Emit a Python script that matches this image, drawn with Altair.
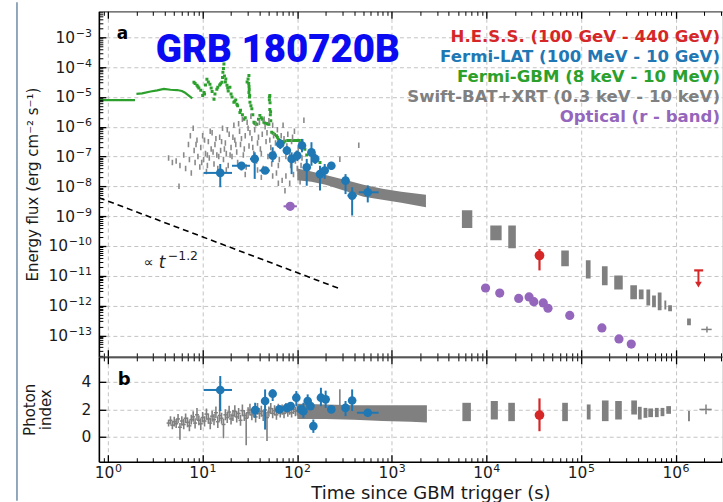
import altair as alt
import pandas as pd

# ================= DATA (log10 values) =================
# Fermi-GBM early binned light curve (two steps)
gbm_line_logt = [-0.097, 0.285, 0.30, 0.36, 0.45, 0.52, 0.59, 0.66, 0.73, 0.78, 0.81, 0.85, 0.89]
gbm_line_logF = [-5.11, -5.11, -4.90, -4.88, -4.82, -4.78, -4.73, -4.76, -4.77, -4.80, -4.85, -4.95, -5.05]
gbm_line_seg = [0, 0, 1, 1, 1, 1, 1, 1, 1, 1, 1, 1, 1]

# Fermi-GBM later points
gbm_logt = [0.908, 0.94, 0.96, 1.0, 1.014, 1.03, 1.045, 1.077, 1.09, 1.12, 1.13, 1.15, 1.18, 1.204,
            1.214, 1.225, 1.23, 1.24, 1.257, 1.27, 1.288, 1.31, 1.33, 1.35, 1.362, 1.394, 1.42,
            1.436, 1.47, 1.489, 1.489, 1.49, 1.495, 1.5, 1.52, 1.542, 1.56, 1.573, 1.605, 1.62,
            1.647, 1.68, 1.70, 1.705, 1.71, 1.71, 1.715, 1.73, 1.76, 1.78, 1.816, 1.83, 1.858,
            1.90, 1.94, 1.996, 2.05, 2.08, 2.13, 2.186, 2.24,
            0.92, 0.95, 0.98, 1.02, 1.06, 1.10, 1.16, 1.19, 1.21, 1.22, 1.245, 1.265, 1.30, 1.34,
            1.37, 1.40, 1.45, 1.48, 1.487, 1.492, 1.497, 1.51, 1.53, 1.55, 1.59, 1.63, 1.66, 1.69,
            1.707, 1.712, 1.718, 1.72, 1.745, 1.79, 1.80, 1.845, 1.87, 1.92, 1.97, 2.02, 2.10, 2.16, 2.21]
gbm_logF = [-4.51, -4.61, -4.70, -4.95, -4.85, -4.60, -4.41, -4.58, -4.70, -5.08, -4.90, -4.74, -4.60, -4.51,
            -4.17, -3.90, -4.30, -4.50, -4.61, -4.80, -4.68, -5.00, -5.18, -5.10, -5.25, -5.52, -5.60,
            -5.75, -4.50, -4.28, -4.85, -4.65, -5.00, -5.18, -5.40, -5.85, -5.90, -5.92, -5.62, -5.70,
            -5.85, -5.90, -5.92, -5.10, -4.95, -5.42, -5.60, -6.19, -6.26, -6.30, -6.46, -6.50, -6.52,
            -6.46, -6.46, -6.46, -6.46, -6.76, -6.90, -7.05, -7.20,
            -4.55, -4.66, -4.78, -4.90, -4.50, -4.82, -4.68, -4.56, -4.35, -4.05, -4.40, -4.70, -4.90, -5.15,
            -5.30, -5.45, -5.70, -4.40, -4.55, -4.75, -4.95, -5.30, -5.60, -5.88, -5.75, -5.75, -5.88, -5.90,
            -5.00, -5.20, -5.50, -5.80, -6.22, -6.35, -6.42, -6.50, -6.48, -6.46, -6.46, -6.46, -6.95, -7.00, -7.12]

# Swift-BAT (+ early XRT) scattered flux points
bat_logt = [0.64, 0.68, 0.72, 0.75, 0.76, 0.80, 0.82, 0.85, 0.86, 0.88, 0.90, 0.91, 0.92, 0.94, 0.95,
            0.97, 0.98, 1.00, 1.01, 1.03, 1.04, 1.06, 1.07, 1.09, 1.10, 1.12, 1.13, 1.15, 1.16, 1.18,
            1.19, 1.21, 1.22, 1.24, 1.25, 1.27, 1.28, 1.30, 1.31, 1.33, 1.34, 1.36, 1.37, 1.39, 1.40,
            1.42, 1.43, 1.45, 1.46, 1.48, 1.49, 1.51, 1.52, 1.54, 1.55, 1.57, 1.58, 1.60, 1.61, 1.63,
            1.64, 1.66, 1.67, 1.69, 1.70, 1.72, 1.73, 1.75, 1.76, 1.78, 1.79, 1.81, 1.82, 1.84, 1.85,
            1.86, 1.87, 1.88, 1.90, 1.91, 1.93, 1.94, 1.96, 1.97, 1.99, 2.00, 2.02, 2.03, 2.05, 2.07,
            2.45, 2.65,
            0.87, 0.93, 0.99, 1.02, 1.05, 1.08, 1.11, 1.14, 1.17, 1.20, 1.23, 1.26, 1.29, 1.32, 1.35,
            1.38, 1.41, 1.44, 1.47, 1.50, 1.53, 1.56, 1.59, 1.62, 1.65, 1.68, 1.71, 1.74, 1.77, 1.80,
            1.83, 1.89, 1.92, 1.95, 1.98, 2.01, 2.04, 1.45, 1.58, 1.62, 1.25, 1.05, 1.74, 1.80, 1.88, 1.92]
bat_logF = [-7.05, -7.20, -7.15, -8.00, -7.30, -6.95, -7.40, -6.60, -7.10, -7.55, -6.05, -6.80, -7.20, -6.45, -7.00,
            -7.35, -6.70, -6.30, -7.10, -6.90, -7.50, -6.50, -7.05, -6.75, -6.20, -7.25, -6.60, -6.95, -7.40, -6.35,
            -6.80, -6.05, -7.10, -6.55, -6.90, -7.30, -6.25, -6.70, -7.00, -5.95, -6.45, -6.85, -7.20, -6.15, -6.60,
            -5.75, -6.95, -6.30, -7.35, -6.05, -6.65, -5.65, -6.40, -6.90, -6.10, -7.15, -6.55, -5.85, -6.75, -6.25,
            -7.40, -6.00, -6.50, -7.00, -5.80, -6.70, -7.25, -6.30, -6.90, -7.55, -6.10, -7.10, -6.60, -7.80, -5.95,
            -6.40, -8.15, -7.00, -6.25, -6.80, -7.30, -6.50, -7.60, -6.15, -6.90, -7.40, -6.60, -7.85, -7.05, -5.78,
            -7.09, -6.62,
            -6.30, -6.60, -7.20, -6.45, -6.95, -6.15, -6.85, -6.40, -7.00, -6.50, -6.75, -6.10, -6.95, -6.35, -6.60,
            -5.90, -6.40, -6.75, -5.85, -6.20, -6.70, -5.90, -6.35, -6.90, -5.75, -6.20, -6.45, -5.95, -6.55, -7.30,
            -6.30, -6.65, -7.00, -6.35, -7.15, -6.75, -7.30, -7.60, -7.45, -7.70, -7.45, -7.30, -7.65, -7.90, -7.65, -7.90]

# Swift-XRT dense decay (flux envelope)
xrt_band_logt = [2.00, 2.15, 2.30, 2.50, 2.70, 2.90, 3.10, 3.36]
xrt_band_hi = [-7.40, -7.50, -7.62, -7.78, -7.95, -8.08, -8.18, -8.28]
xrt_band_lo = [-7.80, -7.85, -7.95, -8.15, -8.35, -8.45, -8.55, -8.70]

# Swift-XRT later orbits (time range, flux range)
xrt_t1 = [3.74, 4.04, 4.23, 4.79, 5.05, 5.22, 5.35, 5.52, 5.61, 5.69, 5.75, 5.81, 5.88, 5.92, 6.12]
xrt_t2 = [3.85, 4.16, 4.31, 4.87, 5.10, 5.28, 5.44, 5.59, 5.66, 5.73, 5.79, 5.85, 5.90, 5.96, 6.16]
xrt_f1 = [-9.40, -9.81, -10.08, -10.68, -11.09, -11.32, -11.46, -11.79, -11.79, -12.00, -12.06, -12.16, -12.13, -12.19, -12.66]
xrt_f2 = [-8.80, -9.31, -9.31, -10.15, -10.48, -10.68, -10.99, -11.32, -11.46, -11.46, -11.66, -11.56, -11.83, -11.99, -12.43]
xrt_last_logt, xrt_last_tlo, xrt_last_thi = 6.33, 6.27, 6.38
xrt_last_logF, xrt_last_flo, xrt_last_fhi = -12.80, -12.90, -12.70

# Fermi-LAT flux
lat_logt = [1.186, 1.41, 1.55, 1.66, 1.74, 1.82, 1.89, 1.94, 2.00, 2.05, 2.10, 2.15, 2.19, 2.24, 2.29, 2.36, 2.51, 2.58, 2.745]
lat_tlo = [1.01, 1.31, 1.50, 1.60, 1.71, 1.79, 1.87, 1.92, 1.98, 2.03, 2.08, 2.13, 2.17, 2.22, 2.27, 2.32, 2.47, 2.53, 2.65]
lat_thi = [1.31, 1.50, 1.59, 1.71, 1.77, 1.85, 1.91, 1.96, 2.02, 2.07, 2.12, 2.17, 2.21, 2.26, 2.31, 2.40, 2.55, 2.63, 2.86]
lat_logF = [-7.55, -7.31, -7.08, -7.47, -6.97, -6.58, -6.80, -7.08, -6.97, -6.63, -7.36, -6.86, -7.08, -7.59, -7.47, -7.31, -7.81, -8.31, -8.20]
lat_flo = [-8.03, -7.47, -7.75, -7.57, -7.19, -6.75, -6.95, -7.59, -7.15, -6.86, -7.98, -7.31, -7.25, -8.14, -7.75, -7.45, -8.26, -8.98, -8.54]
lat_fhi = [-7.25, -7.20, -6.86, -7.36, -6.69, -6.41, -6.65, -6.86, -6.80, -6.41, -7.08, -6.52, -6.90, -7.31, -7.25, -7.18, -7.59, -8.03, -7.97]

# Optical r-band
opt_logt = [1.925, 3.99, 4.14, 4.34, 4.45, 4.50, 4.60, 4.65, 4.88, 5.22, 5.40, 5.53]
opt_tlo = [1.855, 3.99, 4.14, 4.34, 4.45, 4.50, 4.60, 4.65, 4.88, 5.22, 5.40, 5.53]
opt_thi = [1.996, 3.99, 4.14, 4.34, 4.45, 4.50, 4.60, 4.65, 4.88, 5.22, 5.40, 5.53]
opt_logF = [-8.67, -11.41, -11.58, -11.76, -11.71, -11.87, -11.91, -12.09, -12.33, -12.75, -13.12, -13.29]

# H.E.S.S.
hess_logt, hess_logF, hess_flo, hess_fhi = 4.56, -10.32, -10.82, -10.10
hess_ul_logt, hess_ul_tlo, hess_ul_thi, hess_ul_logF, hess_ul_tip = 6.24, 6.195, 6.29, -10.82, -11.30
hess_idx, hess_idx_lo, hess_idx_hi = 1.58, 0.41, 2.79

# power law  F ~ t^-1.2 (end points)
pl_logt = [-0.097, 2.453]
pl_logF = [-8.38, -11.44]

# ---- photon index panel ----
batx_logt = [0.64, 0.66, 0.68, 0.70, 0.72, 0.74, 0.76, 0.78, 0.80, 0.82, 0.84, 0.86, 0.88, 0.90, 0.92,
             0.94, 0.96, 0.98, 1.00, 1.02, 1.04, 1.06, 1.08, 1.10, 1.12, 1.14, 1.16, 1.18, 1.20, 1.22,
             1.24, 1.26, 1.28, 1.30, 1.32, 1.34, 1.36, 1.38, 1.40, 1.42, 1.44, 1.46, 1.48, 1.50, 1.52,
             1.54, 1.56, 1.58, 1.60, 1.62, 1.64, 1.66, 1.68, 1.70, 1.72, 1.74, 1.76, 1.78, 1.80, 1.82,
             1.84, 1.86, 1.88, 1.90, 1.92, 1.94, 1.96, 1.98, 2.00, 2.45]
batx_idx = [1.00, 1.20, 0.85, 1.10, 0.95, 1.30, 0.70, 1.15, 0.90, 1.35, 1.05, 0.80, 1.25, 1.45, 1.00,
            1.60, 1.20, 0.95, 1.40, 1.15, 1.65, 1.30, 1.00, 1.50, 1.25, 1.75, 1.10, 1.55, 1.35, 0.90,
            1.60, 1.40, 1.80, 1.30, 1.55, 1.85, 1.45, 1.70, 1.20, 1.90, 1.55, 1.35, 1.75, 1.95, 1.60,
            1.80, 1.45, 2.00, 1.70, 1.85, 1.55, 1.95, 1.40, 1.80, 2.05, 1.70, 1.90, 1.60, 2.00, 1.75,
            1.95, 1.70, 2.05, 1.80, 1.95, 1.75, 2.00, 1.85, 1.90, 2.00]
batx_lo = [0.75, 0.90, 0.55, 0.75, 0.65, 1.00, -0.20, 0.80, 0.55, 1.00, 0.70, 0.40, 0.90, 1.10, 0.60,
           1.20, 0.85, 0.50, 1.05, 0.75, 1.25, 0.95, 0.55, 1.10, 0.85, 1.35, 0.65, 1.15, 0.95, -0.10,
           1.20, 1.00, 1.40, 0.90, 1.15, 1.45, 1.05, 1.30, 0.80, 1.50, 1.15, -0.60, 1.35, 1.55, 1.20,
           1.40, 1.05, 1.60, 1.30, 1.45, 1.15, 1.55, -0.30, 1.45, 1.65, 1.35, 1.55, 1.25, 1.65, 1.40,
           1.60, 1.35, 1.70, 1.45, 1.60, 1.40, 1.65, 1.50, 1.55, 1.60]
batx_hi = [1.25, 1.50, 1.15, 1.45, 1.30, 1.65, 1.00, 1.50, 1.30, 1.70, 1.40, 1.20, 1.60, 1.85, 1.35,
           2.10, 1.55, 1.35, 1.80, 1.50, 2.05, 1.70, 1.40, 1.90, 1.65, 2.20, 1.50, 3.20, 1.75, 1.30,
           2.00, 1.80, 2.25, 1.70, 1.95, 2.30, 1.85, 2.10, 1.60, 2.35, 1.95, 1.75, 2.15, 2.40, 2.00,
           2.20, 1.85, 2.45, 2.10, 2.25, 1.95, 2.35, 1.80, 2.20, 2.45, 2.10, 2.30, 2.00, 2.40, 2.15,
           2.35, 2.05, 2.45, 2.15, 2.30, 2.10, 2.35, 2.20, 2.25, 3.45]

xrtx_band_logt = [2.00, 2.30, 2.60, 2.90, 3.20, 3.37]
xrtx_band_hi = [2.40, 2.35, 2.30, 2.30, 2.30, 2.30]
xrtx_band_lo = [1.30, 1.30, 1.25, 1.15, 1.10, 1.05]

xrtx_t1 = [3.745, 4.045, 4.23, 4.80, 5.06, 5.22, 5.36, 5.53, 5.60, 5.66, 5.71, 5.78, 5.84, 5.90, 6.13]
xrtx_t2 = [3.835, 4.12, 4.30, 4.86, 5.10, 5.29, 5.43, 5.59, 5.64, 5.70, 5.76, 5.82, 5.88, 5.95, 6.15]
xrtx_lo = [1.14, 1.26, 1.14, 1.14, 1.26, 1.14, 1.26, 1.62, 1.26, 1.38, 1.43, 1.43, 1.50, 1.67, 1.14]
xrtx_hi = [2.47, 2.60, 2.47, 2.47, 2.35, 2.64, 2.60, 2.64, 2.18, 2.10, 2.06, 2.10, 2.10, 2.23, 1.87]
xrtx_last_logt, xrtx_last_tlo, xrtx_last_thi = 6.32, 6.25, 6.38
xrtx_last_idx, xrtx_last_lo, xrtx_last_hi = 1.99, 1.64, 2.34

latx_logt = [1.186, 1.555, 1.66, 1.74, 1.81, 1.89, 1.93, 1.99, 2.04, 2.065, 2.11, 2.14, 2.17, 2.25, 2.30, 2.36, 2.51, 2.58, 2.745]
latx_tlo = [1.01, 1.54, 1.645, 1.725, 1.795, 1.875, 1.915, 1.975, 2.025, 2.05, 2.095, 2.125, 2.155, 2.235, 2.285, 2.345, 2.495, 2.565, 2.63]
latx_thi = [1.31, 1.57, 1.675, 1.755, 1.825, 1.905, 1.945, 2.005, 2.055, 2.08, 2.125, 2.155, 2.185, 2.265, 2.315, 2.375, 2.525, 2.595, 2.86]
latx_idx = [3.40, 1.94, 2.60, 3.13, 1.99, 2.10, 2.23, 2.84, 1.99, 1.87, 2.60, 2.23, 0.78, 2.84, 2.72, 1.99, 2.10, 2.64, 1.75]
latx_lo = [1.87, 1.38, 0.53, 2.60, 1.75, 1.85, 1.95, 2.23, 1.75, 1.38, 2.10, 1.95, 0.29, 2.23, 2.10, 1.75, 1.50, 1.87, 1.55]
latx_hi = [4.41, 2.47, 3.44, 3.44, 2.25, 2.35, 2.50, 3.32, 2.25, 2.47, 3.08, 2.50, 1.26, 3.56, 3.35, 2.25, 2.60, 3.44, 1.95]

legend_texts = ["H.E.S.S. (100 GeV - 440 GeV)", "Fermi-LAT (100 MeV - 10 GeV)",
                "Fermi-GBM (8 keV - 10 MeV)", "Swift-BAT+XRT (0.3 keV - 10 keV)", "Optical (r - band)"]

x_major = [1, 10, 100, 1e3, 1e4, 1e5, 1e6]
x_major_exp = ["0", "1", "2", "3", "4", "5", "6"]
y_major_exp = [-13, -12, -11, -10, -9, -8, -7, -6, -5, -4, -3]
idx_major = [0, 2, 4]

# ================= STYLE / LAYOUT =================
RED, BLUE, GREEN, GRAY, PURPLE = "#d62728", "#1f77b4", "#2ca02c", "#808080", "#9467bd"
LABC = "#1a1a1a"
FONT = "DejaVu Sans"
W, HT, HB = 624, 346, 105
LOGX0, LOGX1 = -0.097, 6.489
XS = alt.Scale(type="log", domain=[10 ** LOGX0, 10 ** LOGX1], nice=False)
YT = alt.Scale(type="log", domain=[10 ** -13.72, 10 ** -2.13], nice=False)
YB = alt.Scale(type="linear", domain=[-1.8, 5.8], nice=False, zero=False)
FS_MAIN, FS_EXP = 15.5, 11


def pw(v):
    return [10.0 ** a for a in v]


y_major = [10.0 ** e for e in y_major_exp]
x_minor = [0.9] + [m * 10.0 ** k for k in range(0, 7) for m in range(2, 10) if m * 10.0 ** k < 10 ** LOGX1]
y_minor = [m * 10.0 ** k for k in range(-14, -2) for m in range(2, 10)
           if 10 ** -13.72 < m * 10.0 ** k < 10 ** -2.13]

dummy = pd.DataFrame({"t": [10.0], "f": [1e-8], "p": [1.0]})


def ax(**kw):
    d = dict(title=None, labels=False, ticks=False, domain=False, grid=False)
    d.update(kw)
    return alt.Axis(**d)


def xaxis_layer(yf, ys, **kw):
    return alt.Chart(dummy).mark_point(opacity=0).encode(
        x=alt.X("t:Q", scale=XS, axis=ax(**kw)),
        y=alt.Y(f"{yf}:Q", scale=ys, axis=None))


def yaxis_layer(yf, ys, **kw):
    return alt.Chart(dummy).mark_point(opacity=0).encode(
        x=alt.X("t:Q", scale=XS, axis=None),
        y=alt.Y(f"{yf}:Q", scale=ys, axis=ax(**kw)))


GRID = dict(grid=True, gridColor="#c3c3c3", gridDash=[4, 3], gridWidth=1, zindex=0)
TK = dict(ticks=True, tickColor="black", zindex=2)


def frame_layers(yf, ys):
    L = [xaxis_layer(yf, ys, orient="bottom", values=x_major, **GRID),
         xaxis_layer(yf, ys, orient="bottom", domain=True, domainColor="black", domainWidth=1.6, zindex=2),
         xaxis_layer(yf, ys, orient="top", domain=True, domainColor="#555", domainWidth=1.1, zindex=2),
         yaxis_layer(yf, ys, orient="left", domain=True, domainColor="black", domainWidth=1.6, zindex=2)]
    for o in ["bottom", "top"]:
        L.append(xaxis_layer(yf, ys, orient=o, values=x_major, tickSize=7, offset=-7, tickWidth=1.3, **TK))
        L.append(xaxis_layer(yf, ys, orient=o, values=x_minor, tickSize=4, offset=-4, tickWidth=1, **TK))
    return L


def X(f="t"):
    return alt.X(f"{f}:Q", scale=XS, axis=None)


def YF(f="f"):
    return alt.Y(f"{f}:Q", scale=YT, axis=None)


def YP(f="p"):
    return alt.Y(f"{f}:Q", scale=YB, axis=None)


def txt(text, x, y, size, **kw):
    return alt.Chart(dummy).mark_text(fontSize=size, align=kw.pop("align", "left"),
                                      baseline="alphabetic", **kw).encode(
        x=alt.value(x), y=alt.value(y), text=alt.value(text))


# ================= TOP PANEL =================
df_gbml = pd.DataFrame({"t": pw(gbm_line_logt), "f": pw(gbm_line_logF), "seg": gbm_line_seg})
df_gbm = pd.DataFrame({"t": pw(gbm_logt), "f": pw(gbm_logF)})
df_bat = pd.DataFrame({"t": pw(bat_logt), "f": pw(bat_logF)})
df_band = pd.DataFrame({"t": pw(xrt_band_logt), "hi": pw(xrt_band_hi), "lo": pw(xrt_band_lo)})
df_xrt = pd.DataFrame({"t1": pw(xrt_t1), "t2": pw(xrt_t2), "f1": pw(xrt_f1), "f2": pw(xrt_f2)})
df_xlast = pd.DataFrame({"t": [10 ** xrt_last_logt], "tlo": [10 ** xrt_last_tlo], "thi": [10 ** xrt_last_thi],
                         "f": [10 ** xrt_last_logF], "flo": [10 ** xrt_last_flo], "fhi": [10 ** xrt_last_fhi]})
df_lat = pd.DataFrame({"t": pw(lat_logt), "tlo": pw(lat_tlo), "thi": pw(lat_thi),
                       "f": pw(lat_logF), "flo": pw(lat_flo), "fhi": pw(lat_fhi)})
df_opt = pd.DataFrame({"t": pw(opt_logt), "tlo": pw(opt_tlo), "thi": pw(opt_thi), "f": pw(opt_logF)})
df_hess = pd.DataFrame({"t": [10 ** hess_logt], "f": [10 ** hess_logF], "flo": [10 ** hess_flo], "fhi": [10 ** hess_fhi]})
df_ul = pd.DataFrame({"t": [10 ** hess_ul_logt], "tlo": [10 ** hess_ul_tlo], "thi": [10 ** hess_ul_thi],
                      "f": [10 ** hess_ul_logF], "tip": [10 ** hess_ul_tip]})
df_pl = pd.DataFrame({"t": pw(pl_logt), "f": pw(pl_logF)})

top_marks = [
    alt.Chart(df_gbml).mark_line(color=GREEN, strokeWidth=2.2, clip=True).encode(x=X(), y=YF(), detail="seg:N"),
    alt.Chart(df_gbm).mark_square(color=GREEN, size=9, opacity=1, clip=True).encode(x=X(), y=YF()),
    alt.Chart(df_bat).mark_point(shape="M0,-1L0,1", filled=False, color="#8a8a8a", strokeWidth=1.6, size=30,
                                 opacity=1, clip=True).encode(x=X(), y=YF()),
    alt.Chart(df_band).mark_area(color=GRAY, opacity=1, clip=True).encode(x=X(), y=YF("hi"), y2="lo:Q"),
    alt.Chart(df_xrt).mark_rect(color=GRAY, opacity=1, clip=True).encode(x=X("t1"), x2="t2:Q", y=YF("f1"), y2="f2:Q"),
    alt.Chart(df_xlast).mark_rule(color=GRAY, strokeWidth=1.5).encode(x=X("tlo"), x2="thi:Q", y=YF()),
    alt.Chart(df_xlast).mark_rule(color=GRAY, strokeWidth=1.5).encode(x=X(), y=YF("flo"), y2="fhi:Q"),
    alt.Chart(df_lat).mark_rule(color=BLUE, strokeWidth=2).encode(x=X("tlo"), x2="thi:Q", y=YF()),
    alt.Chart(df_lat).mark_rule(color=BLUE, strokeWidth=2).encode(x=X(), y=YF("flo"), y2="fhi:Q"),
    alt.Chart(df_lat).mark_circle(color=BLUE, size=75, opacity=1).encode(x=X(), y=YF()),
    alt.Chart(df_opt).mark_rule(color=PURPLE, strokeWidth=2).encode(x=X("tlo"), x2="thi:Q", y=YF()),
    alt.Chart(df_opt).mark_circle(color=PURPLE, size=85, opacity=1).encode(x=X(), y=YF()),
    alt.Chart(df_hess).mark_rule(color=RED, strokeWidth=2.2).encode(x=X(), y=YF("flo"), y2="fhi:Q"),
    alt.Chart(df_hess).mark_circle(color=RED, size=95, opacity=1).encode(x=X(), y=YF()),
    alt.Chart(df_ul).mark_rule(color=RED, strokeWidth=2.2).encode(x=X("tlo"), x2="thi:Q", y=YF()),
    alt.Chart(df_ul).mark_rule(color=RED, strokeWidth=2).encode(x=X(), y=YF(), y2="tip:Q"),
    alt.Chart(df_ul).mark_point(shape="triangle-down", filled=True, color=RED, size=45, opacity=1).encode(
        x=X(), y=YF("tip")),
    alt.Chart(df_pl).mark_line(color="black", strokeWidth=1.6, strokeDash=[6, 4], clip=True).encode(x=X(), y=YF()),
]

df_leg = pd.DataFrame({"txt": legend_texts, "col": [RED, BLUE, GREEN, GRAY, PURPLE]})
df_leg["yy"] = [30.5 + 20 * i for i in range(len(df_leg))]

# y tick labels "10" + raised exponent (matplotlib mathtext look)
df_ylab = pd.DataFrame({"f": y_major, "e": ["−" + str(-e) for e in y_major_exp]})
df_ylab["xe"] = -7.0
df_ylab["x10"] = [-7.5 - FS_EXP * (0.838 + 0.636 * (len(s) - 1)) for s in df_ylab["e"]]

top_text = [
    alt.Chart(df_leg).mark_text(font=FONT, fontSize=16.6, fontWeight="bold", align="right",
                                baseline="alphabetic").encode(
        x=alt.value(622), y=alt.Y("yy:Q", scale=None, axis=None), text="txt:N",
        color=alt.Color("col:N", scale=None)),
    txt("GRB 180720B", 57, 51, 38.5, font="Roboto", fontWeight=900, color="#0b0bf2"),
    txt("a", 18, 28, 17, font=FONT, fontWeight="bold", color="black"),
    txt("∝", 45, 256, 14, font=FONT, color="#222"),
    txt("t", 60, 257, 17, font=FONT, fontStyle="italic", color="#222"),
    txt("−1.2", 69, 249, 12.5, font=FONT, color="#222"),
    alt.Chart(df_ylab).mark_text(font=FONT, fontSize=FS_MAIN, align="right", baseline="alphabetic", dy=5.5,
                                 color=LABC).encode(
        x=alt.X("x10:Q", scale=None, axis=None), y=YF(), text=alt.value("10")),
    alt.Chart(df_ylab).mark_text(font=FONT, fontSize=FS_EXP, align="right", baseline="alphabetic", dy=-0.5,
                                 color=LABC).encode(
        x=alt.X("xe:Q", scale=None, axis=None), y=YF(), text="e:N"),
    # thin page border line at the left of the figure
    alt.Chart(dummy).mark_rule(color="#6e8ca6", strokeWidth=1.5).encode(
        x=alt.value(-82), y=alt.value(-9), y2=alt.value(490)),
]

top_axes = frame_layers("f", YT) + [
    yaxis_layer("f", YT, orient="left", values=y_major, **GRID),
    yaxis_layer("f", YT, orient="left", values=y_major, tickSize=7, offset=-7, tickWidth=1.3, **TK,
                title="Energy flux (erg cm⁻² s⁻¹)", titleFont=FONT, titleFontSize=15,
                titleFontWeight="normal", titleColor=LABC, titlePadding=10, minExtent=55, maxExtent=55),
    yaxis_layer("f", YT, orient="left", values=y_minor, tickSize=4, offset=-4, tickWidth=1, **TK),
]

top = alt.layer(*top_axes, *top_marks, *top_text).properties(width=W, height=HT).resolve_axis(
    x="independent", y="independent")

# ================= BOTTOM PANEL =================
df_batx = pd.DataFrame({"t": pw(batx_logt), "p": batx_idx, "lo": batx_lo, "hi": batx_hi})
df_bandx = pd.DataFrame({"t": pw(xrtx_band_logt), "hi": xrtx_band_hi, "lo": xrtx_band_lo})
df_xrtx = pd.DataFrame({"t1": pw(xrtx_t1), "t2": pw(xrtx_t2), "lo": xrtx_lo, "hi": xrtx_hi})
df_xlastx = pd.DataFrame({"t": [10 ** xrtx_last_logt], "tlo": [10 ** xrtx_last_tlo], "thi": [10 ** xrtx_last_thi],
                          "p": [xrtx_last_idx], "lo": [xrtx_last_lo], "hi": [xrtx_last_hi]})
df_latx = pd.DataFrame({"t": pw(latx_logt), "tlo": pw(latx_tlo), "thi": pw(latx_thi),
                        "p": latx_idx, "lo": latx_lo, "hi": latx_hi})
df_hessx = pd.DataFrame({"t": [10 ** hess_logt], "p": [hess_idx], "lo": [hess_idx_lo], "hi": [hess_idx_hi]})
df_xlab = pd.DataFrame({"t": x_major, "e": x_major_exp})
w_exp1 = FS_EXP * 0.636
w_10 = FS_MAIN * 0.636 * 2
x_shift = (w_10 + w_exp1) / 2 - w_exp1

bot_marks = [
    alt.Chart(df_batx).mark_rule(color=GRAY, strokeWidth=1.6, clip=True).encode(x=X(), y=YP("lo"), y2="hi:Q"),
    alt.Chart(df_batx).mark_point(shape="M-1,0L1,0", filled=False, color=GRAY, strokeWidth=1.5, size=16,
                                  opacity=1).encode(x=X(), y=YP()),
    alt.Chart(df_bandx).mark_area(color=GRAY, opacity=1).encode(x=X(), y=YP("hi"), y2="lo:Q"),
    alt.Chart(df_xrtx).mark_rect(color=GRAY, opacity=1).encode(x=X("t1"), x2="t2:Q", y=YP("lo"), y2="hi:Q"),
    alt.Chart(df_xlastx).mark_rule(color=GRAY, strokeWidth=1.5).encode(x=X("tlo"), x2="thi:Q", y=YP()),
    alt.Chart(df_xlastx).mark_rule(color=GRAY, strokeWidth=1.5).encode(x=X(), y=YP("lo"), y2="hi:Q"),
    alt.Chart(df_latx).mark_rule(color=BLUE, strokeWidth=2).encode(x=X("tlo"), x2="thi:Q", y=YP()),
    alt.Chart(df_latx).mark_rule(color=BLUE, strokeWidth=2).encode(x=X(), y=YP("lo"), y2="hi:Q"),
    alt.Chart(df_latx).mark_circle(color=BLUE, size=75, opacity=1).encode(x=X(), y=YP()),
    alt.Chart(df_hessx).mark_rule(color=RED, strokeWidth=2.2).encode(x=X(), y=YP("lo"), y2="hi:Q"),
    alt.Chart(df_hessx).mark_circle(color=RED, size=95, opacity=1).encode(x=X(), y=YP()),
    txt("b", 19, 28, 18, font=FONT, fontWeight="bold", color="black"),
    # x tick labels "10" + raised exponent
    alt.Chart(df_xlab).mark_text(font=FONT, fontSize=FS_MAIN, align="right", baseline="alphabetic",
                                 dx=x_shift, color=LABC).encode(x=X(), y=alt.value(121), text=alt.value("10")),
    alt.Chart(df_xlab).mark_text(font=FONT, fontSize=FS_EXP, align="left", baseline="alphabetic",
                                 dx=x_shift + 0.5, color=LABC).encode(x=X(), y=alt.value(115), text="e:N"),
    txt("Time since GBM trigger (s)", 332.5, 142, 18, font=FONT, color=LABC, align="center"),
]

bot_axes = frame_layers("p", YB) + [
    yaxis_layer("p", YB, orient="left", values=idx_major, **GRID),
    yaxis_layer("p", YB, orient="left", values=idx_major, tickSize=7, offset=-7, tickWidth=1.3, **TK,
                labels=True, format="d", labelFont=FONT, labelFontSize=FS_MAIN, labelColor=LABC,
                labelPadding=8, labelOverlap=False, labelFlush=False,
                title=["Photon", "index"], titleFont=FONT, titleFontSize=15, titleLineHeight=16,
                titleFontWeight="normal", titleColor=LABC, titlePadding=28, minExtent=24, maxExtent=24),
]

bottom = alt.layer(*bot_axes, *bot_marks).properties(width=W, height=HB).resolve_axis(
    x="independent", y="independent")

chart = alt.vconcat(top, bottom, spacing=0, bounds="flush").properties(
    padding={"left": 15, "top": 0, "right": 0, "bottom": 0}
).configure_view(stroke=None).configure(background="white")

chart.save("out.html", embed_options={"renderer": "svg", "actions": False})
